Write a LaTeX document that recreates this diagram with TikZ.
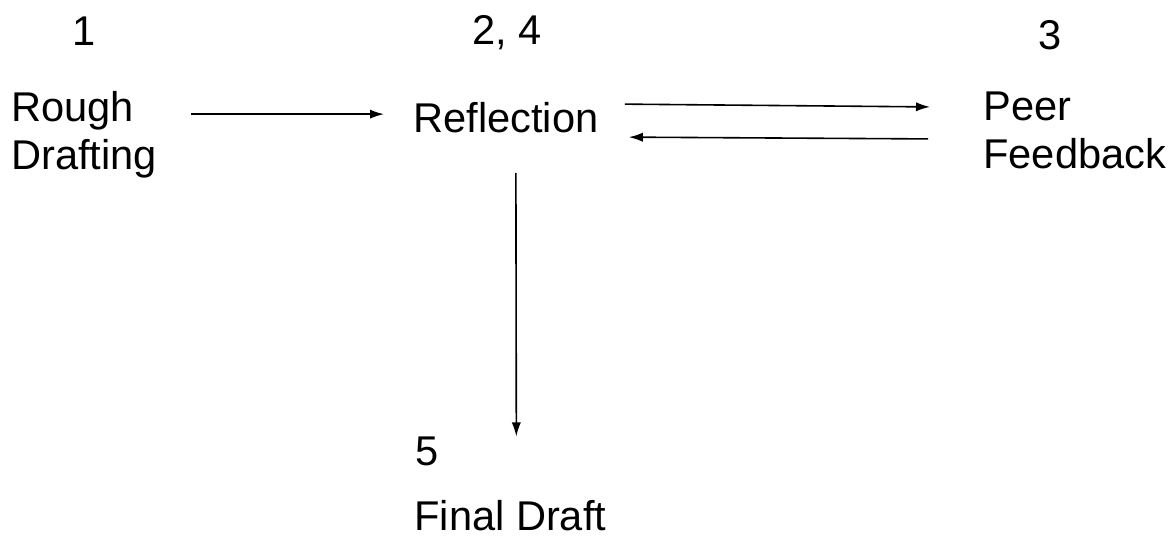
\documentclass[tikz,border=0pt]{standalone}
\usepackage{fontspec}
\setmainfont{Liberation Sans}
\usetikzlibrary{calc,arrows.meta}

\begin{document}
\begin{tikzpicture}[
    x=0.5pt, y=-0.5pt,
    >={Latex[length=7pt,width=4.6pt]},
    lbl/.style={inner sep=0pt, font=\fontsize{20.8}{24}\selectfont, align=left},
    num/.style={lbl, anchor=base},
    flow/.style={->, line width=0.8pt}
  ]
  \useasboundingbox (0,0) rectangle (1174,537);

  % stages
  \node[lbl, anchor=north west] (rough) at (11,91) {Rough\\Drafting};
  \node[lbl, anchor=base west] (refl) at (413,132) {Reflection};
  \node[lbl, anchor=north west] (peer) at (983,91) {Peer\\Feedback};
  \node[lbl, anchor=base west] (final) at (414,530) {Final Draft};

  % step numbers
  \node[num] (n1) at (84,45) {1};
  \node[num] (n24) at (507,44) {2, 4};
  \node[num] (n3) at (1050,49) {3};
  \node[num, anchor=base west] (n5) at (415,465) {5};

  \draw[flow] ($(rough.east |- refl.west)+(34,-3)$) -- ($(refl.west)+(-29,-3)$);
  \draw[flow] ($(refl.east)+(26,-13)$) -- ($(peer.west)+(-53,-23)$);
  \draw[flow] ($(peer.west)+(-55,9)$) -- ($(refl.east)+(30,20)$);
  \draw[flow] ($(refl.south)+(10,40)$) -- ($(final.north)+(6,-63)$);
\end{tikzpicture}
\end{document}
